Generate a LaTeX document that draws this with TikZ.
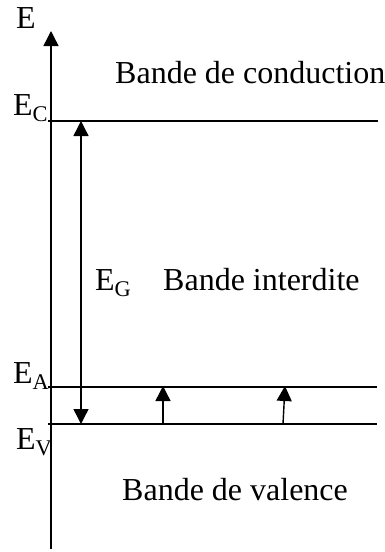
\documentclass[tikz,border=0pt]{standalone}
\usepackage{fontspec}
\setmainfont{Liberation Serif}
\usetikzlibrary{arrows.meta}
\tikzset{
  lbl/.style={inner sep=0pt, anchor=base west, font=\fontsize{32}{36}\selectfont},
  lvl/.style={line width=1.4pt},
  tip/.style={-{Triangle[width=15pt,length=15pt]}, line width=1.4pt},
}
\begin{document}
\begin{tikzpicture}[x=1pt,y=-1pt]
\useasboundingbox (0,0) rectangle (384,552);
% axis
\coordinate (ax0) at (51,549);
\coordinate (ax1) at (51,31);
\draw[tip] (ax0) -- (ax1);
\node[lbl] (E) at (16,28) {E};
% levels
\coordinate (c0) at (48,121); \coordinate (c1) at (378,121);
\coordinate (a0) at (48,387); \coordinate (a1) at (377,387);
\coordinate (v0) at (48,424); \coordinate (v1) at (377,424);
\draw[lvl] (c0) -- (c1);
\draw[lvl] (a0) -- (a1);
\draw[lvl] (v0) -- (v1);
\node[lbl] (EC) at (13,115) {E\textsubscript{C}};
\node[lbl] (EA) at (13,383) {E\textsubscript{A}};
\node[lbl] (EV) at (16,449) {E\textsubscript{V}};
% gap arrow
\coordinate (g0) at (81,121); \coordinate (g1) at (81,424);
\draw[{Triangle[width=15pt,length=15pt]}-{Triangle[width=15pt,length=15pt]}, line width=1.4pt] (g0) -- (g1);
\node[lbl] (EG) at (95,290) {E\textsubscript{G}};
% acceptor arrows
\coordinate (p0) at (163,424); \coordinate (p1) at (163,386);
\coordinate (q0) at (283,424); \coordinate (q1) at (285,386);
\draw[tip] (p0) -- (p1);
\draw[tip] (q0) -- (q1);
% band labels
\node[lbl] (BC) at (115,83) {Bande de conduction};
\node[lbl] (BI) at (163,290) {Bande interdite};
\node[lbl] (BV) at (122,500) {Bande de valence};
\end{tikzpicture}
\end{document}
